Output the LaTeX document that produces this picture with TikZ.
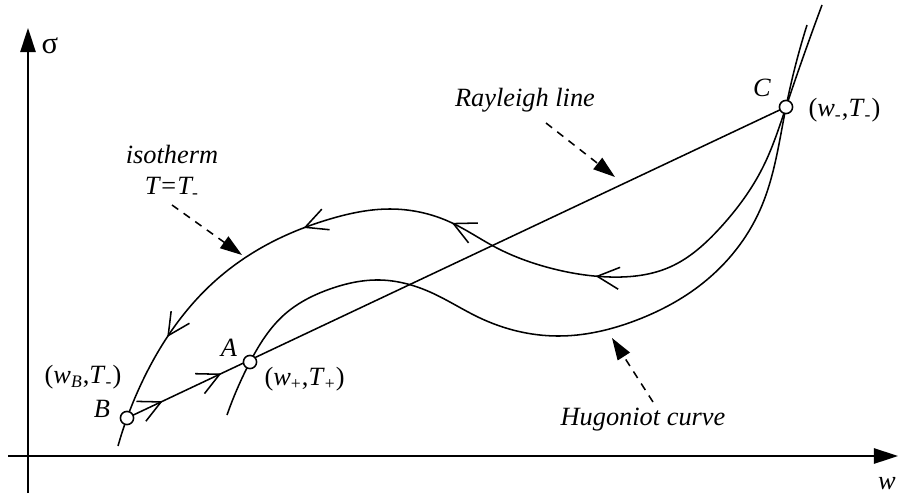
\documentclass[tikz,border=0pt]{standalone}
\usepackage{fontspec}
\setmainfont{Liberation Serif}
\usetikzlibrary{arrows.meta,decorations.markings,hobby}

\newcommand{\wTpair}[2]{\upshape(\textit{w}\textsubscript{#1},\textit{T}\textsubscript{#2})}

\tikzset{chev/.tip={Straight Barb[length=10pt,width=10pt,line width=0.7pt]}}

\begin{document}
\begin{tikzpicture}[
  x=0.016cm, y=-0.016cm,
  every node/.style={font=\fontsize{12}{14}\selectfont\itshape, inner sep=1pt},
  curve/.style={line width=0.7pt},
  axis/.style={line width=0.8pt,-{Triangle[length=11pt,width=7pt]}},
  pointer/.style={line width=0.7pt,dash pattern=on 3.5pt off 3pt,-{Triangle[length=10pt,width=6.5pt]}},
  state/.style={draw,circle,fill=white,line width=0.7pt,minimum size=6pt,inner sep=0pt},
  flow/.style={postaction={decorate},decoration={markings,#1}}
]
\useasboundingbox (0,0) rectangle (900,493);

% states on the Rayleigh line
\coordinate (B) at (127,418);
\coordinate (A) at (250,362);
\coordinate (C) at (786,107);

% axes
\draw[axis] (28,493) -- (28,28);
\draw[axis] (8,456) -- (898,456);
\node (sigma) at (50,46) {\fontsize{14}{14}\selectfont\upshape σ};
\node (wlbl) at (887,484) {w};

% Hugoniot curve
\draw[curve,use Hobby shortcut] (227,415) .. (A) .. (285,314) .. (330,289) .. (380,280) .. (430,292)
  .. (480,318) .. (557,336) .. (637,320) .. (703,283) .. (760,210) .. (C) .. (807,25);

% isotherm T=T-
\draw[curve,use Hobby shortcut,flow={mark=at position 0.39 with {\arrow{chev}},mark=at position 0.546 with {\arrow{chev}},
  mark=at position 0.70 with {\arrow{chev}},mark=at position 0.879 with {\arrow{chev}}}]
  (822,5) .. (C) .. (763,167) .. (720,228) .. (670,267) .. (610,277) .. (550,268) .. (495,247)
  .. (450,222) .. (390,209) .. (330,219) .. (270,243) .. (215,281) .. (172,330) .. (143,380) .. (B) .. (118,446);

% Rayleigh line
\draw[curve,flow={mark=at position 0.054 with {\arrow{chev}},mark=at position 0.143 with {\arrow{chev}}}]
  (B) -- (C);

\node[state] (Bpt) at (B) {};
\node[state] (Apt) at (A) {};
\node[state] (Cpt) at (C) {};

% labels
\node (Blbl) at (102,409) {B};
\node (Bval) at (83,377) {\wTpair{\textit{B}}{-}};
\node (Albl) at (229,348) {A};
\node[anchor=west] (Aval) at (262,379) {\wTpair{+}{+}};
\node (Clbl) at (762,88) {C};
\node[anchor=west] (Cval) at (806,110) {\wTpair{-}{-}};

\node[align=center] (isoLbl) at (172,172) {isotherm\\T=T\textsubscript{-}};
\node (rayLbl) at (525,100) {Rayleigh line};
\node (hugLbl) at (643,420) {Hugoniot curve};

\coordinate (isoFrom) at (172,205);
\coordinate (isoTip) at (242,255);
\coordinate (rayFrom) at (546,123);
\coordinate (rayTip) at (615,177);
\coordinate (hugFrom) at (653,402);
\coordinate (hugTip) at (612,338);
\draw[pointer] (isoFrom) -- (isoTip);
\draw[pointer] (rayFrom) -- (rayTip);
\draw[pointer] (hugFrom) -- (hugTip);
\end{tikzpicture}
\end{document}
